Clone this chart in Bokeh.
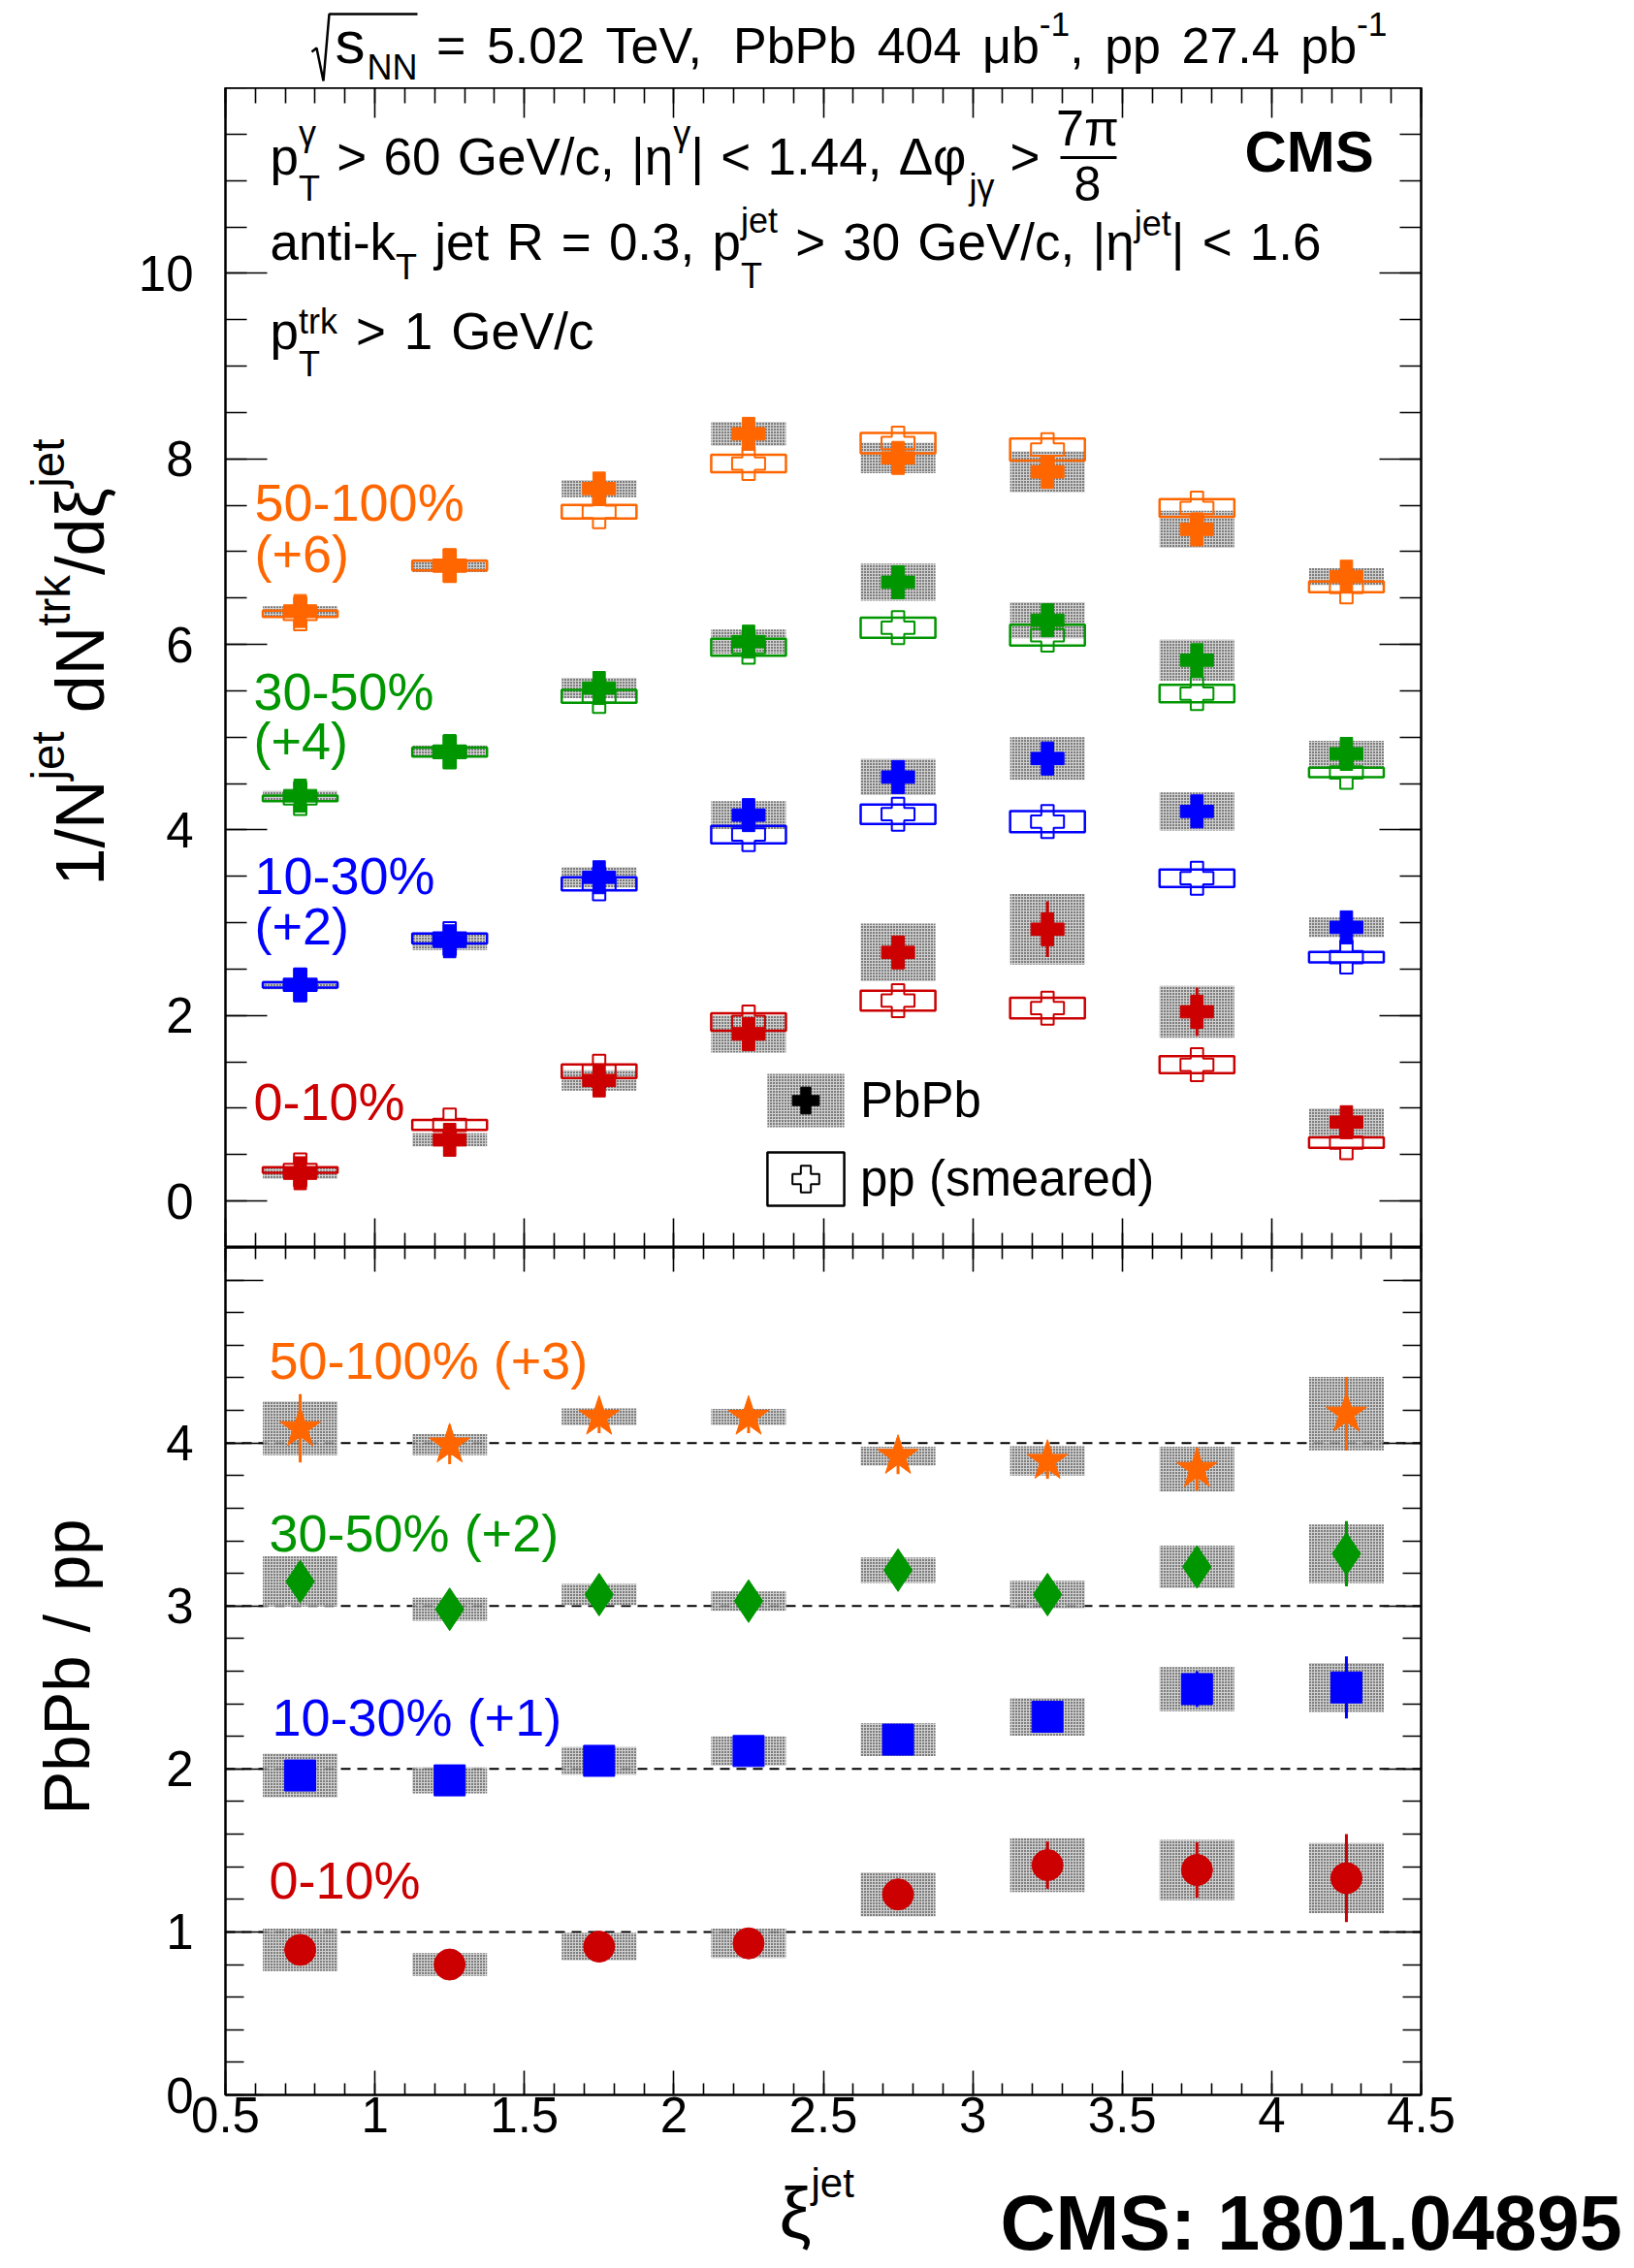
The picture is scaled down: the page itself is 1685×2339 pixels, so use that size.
import math
import re
import numpy as np
from bokeh.embed import file_html
from bokeh.layouts import column, row
from bokeh.models import (CustomLabelingPolicy, FixedTicker, Label, Legend, LegendItem,
                          LinearAxis, Range1d)
from bokeh.plotting import figure
from bokeh.resources import INLINE

FONT = "Liberation Sans"

# ---------------- data ----------------
xi = [0.75, 1.25, 1.75, 2.25, 2.75, 3.25, 3.75, 4.25]
box_width = 0.25

cent_labels = ["0-10%", "10-30%", "30-50%", "50-100%"]
cent_colors = ["#cc0000", "#0000ff", "#009600", "#ff6600"]
dist_offsets = [0, 2, 4, 6]
ratio_offsets = [0, 1, 2, 3]

# 1/N dN/dxi, PbPb (value, stat, sys) per centrality
pbpb_0_10 = [0.30, 0.66, 1.30, 1.80, 2.68, 2.93, 2.04, 0.85]
pbpb_10_30 = [0.33, 0.80, 1.49, 2.16, 2.57, 2.77, 2.20, 0.95]
pbpb_30_50 = [0.37, 0.85, 1.53, 2.03, 2.67, 2.26, 1.83, 0.82]
pbpb_50_100 = [0.36, 0.85, 1.68, 2.27, 2.01, 1.86, 1.24, 0.73]

pbpb_stat_0_10 = [0.03, 0.05, 0.08, 0.12, 0.15, 0.30, 0.26, 0.12]
pbpb_stat_10_30 = [0.03, 0.05, 0.08, 0.12, 0.17, 0.14, 0.14, 0.12]
pbpb_stat_30_50 = [0.03, 0.05, 0.08, 0.12, 0.15, 0.14, 0.17, 0.10]
pbpb_stat_50_100 = [0.03, 0.05, 0.10, 0.18, 0.14, 0.17, 0.18, 0.12]

pbpb_sys_0_10 = [0.06, 0.07, 0.11, 0.20, 0.31, 0.38, 0.28, 0.15]
pbpb_sys_10_30 = [0.05, 0.095, 0.11, 0.15, 0.195, 0.23, 0.205, 0.105]
pbpb_sys_30_50 = [0.05, 0.06, 0.11, 0.13, 0.20, 0.195, 0.22, 0.14]
pbpb_sys_50_100 = [0.05, 0.07, 0.092, 0.13, 0.165, 0.22, 0.20, 0.092]

# smeared pp reference (value, sys)
pp_0_10 = [0.335, 0.82, 1.40, 1.93, 2.16, 2.08, 1.47, 0.63]
pp_10_30 = [0.33, 0.83, 1.42, 1.95, 2.17, 2.09, 1.48, 0.63]
pp_30_50 = [0.34, 0.84, 1.44, 1.97, 2.18, 2.10, 1.47, 0.62]
pp_50_100 = [0.33, 0.85, 1.43, 1.95, 2.17, 2.10, 1.47, 0.62]

pp_sys_0_10 = [0.03, 0.054, 0.073, 0.094, 0.106, 0.11, 0.092, 0.056]
pp_sys_10_30 = [0.028, 0.054, 0.07, 0.094, 0.105, 0.113, 0.094, 0.056]
pp_sys_30_50 = [0.03, 0.049, 0.07, 0.092, 0.108, 0.113, 0.094, 0.052]
pp_sys_50_100 = [0.035, 0.052, 0.073, 0.094, 0.11, 0.118, 0.096, 0.057]

# PbPb / pp ratios (value, stat, sys)
ratio_0_10 = [0.89, 0.80, 0.91, 0.93, 1.23, 1.41, 1.38, 1.33]
ratio_10_30 = [0.96, 0.93, 1.05, 1.11, 1.18, 1.32, 1.49, 1.50]
ratio_30_50 = [1.15, 0.98, 1.07, 1.03, 1.22, 1.07, 1.24, 1.32]
ratio_50_100 = [1.09, 0.99, 1.16, 1.16, 0.92, 0.89, 0.84, 1.18]

ratio_stat_0_10 = [0.04, 0.04, 0.05, 0.05, 0.08, 0.145, 0.17, 0.27]
ratio_stat_10_30 = [0.05, 0.05, 0.05, 0.06, 0.07, 0.09, 0.11, 0.19]
ratio_stat_30_50 = [0.12, 0.11, 0.11, 0.11, 0.11, 0.11, 0.11, 0.20]
ratio_stat_50_100 = [0.21, 0.12, 0.10, 0.10, 0.11, 0.11, 0.13, 0.226]

ratio_sys_0_10 = [0.13, 0.07, 0.085, 0.09, 0.135, 0.165, 0.185, 0.215]
ratio_sys_10_30 = [0.135, 0.08, 0.085, 0.09, 0.10, 0.115, 0.135, 0.15]
ratio_sys_30_50 = [0.155, 0.07, 0.065, 0.06, 0.078, 0.085, 0.13, 0.18]
ratio_sys_50_100 = [0.165, 0.065, 0.052, 0.05, 0.058, 0.09, 0.138, 0.225]

ratio_markers = ["circle", "square", "diamond", "star"]
ratio_marker_sizes = [32, 32, 44, 44]

pbpb = [pbpb_0_10, pbpb_10_30, pbpb_30_50, pbpb_50_100]
pbpb_stat = [pbpb_stat_0_10, pbpb_stat_10_30, pbpb_stat_30_50, pbpb_stat_50_100]
pbpb_sys = [pbpb_sys_0_10, pbpb_sys_10_30, pbpb_sys_30_50, pbpb_sys_50_100]
pp = [pp_0_10, pp_10_30, pp_30_50, pp_50_100]
pp_sys = [pp_sys_0_10, pp_sys_10_30, pp_sys_30_50, pp_sys_50_100]
ratio = [ratio_0_10, ratio_10_30, ratio_30_50, ratio_50_100]
ratio_stat = [ratio_stat_0_10, ratio_stat_10_30, ratio_stat_30_50, ratio_stat_50_100]
ratio_sys = [ratio_sys_0_10, ratio_sys_10_30, ratio_sys_30_50, ratio_sys_50_100]

x_major = [0.5, 1.0, 1.5, 2.0, 2.5, 3.0, 3.5, 4.0, 4.5]
x_minor = [float(v) for v in np.arange(0.5, 4.5001, 0.1)]
top_major = [0, 2, 4, 6, 8, 10]
top_minor = [float(v) for v in np.arange(-0.5, 12.001, 0.5)]
rat_major = [0, 1, 2, 3, 4, 5]
rat_minor = [float(v) for v in np.arange(0.0, 5.2001, 0.2)]
TOP_Y = (-0.5, 12.0)
RAT_Y = (0.0, 5.2)

# ---------------- page geometry (pixels) ----------------
PAGE_W, PAGE_H = 1685, 2339
YLAB_W = 125
FRAME_L, FRAME_R = 232, 1465
TITLE_H = 90
TOP_FRAME_H = 1196
RAT_FRAME_H = 874
RAT_MB = 64
TOP_FRAME_BOTTOM = TITLE_H + TOP_FRAME_H          # 1286
RAT_FRAME_BOTTOM = TOP_FRAME_BOTTOM + RAT_FRAME_H  # 2160
RAT_FIG_BOTTOM = RAT_FRAME_BOTTOM + RAT_MB
FOOT_H = PAGE_H - RAT_FIG_BOTTOM

# dotted systematic boxes: grey ground under a black dot pattern
HATCH = dict(fill_color="#c4c4c4", fill_alpha=0.8, hatch_pattern="dot",
             hatch_color="black", hatch_scale=3, hatch_weight=2.6)
NO_LABELS = CustomLabelingPolicy(code="return []")


def make_fig(height, y_range, mb_bottom):
    f = figure(width=PAGE_W - YLAB_W, height=height, x_range=Range1d(0.5, 4.5),
               y_range=Range1d(*y_range), output_backend="svg", toolbar_location=None,
               x_axis_location=None, y_axis_location=None,
               min_border_left=FRAME_L - YLAB_W, min_border_right=PAGE_W - FRAME_R,
               min_border_top=0, min_border_bottom=mb_bottom)
    f.outline_line_color = "black"
    f.outline_line_width = 2
    f.background_fill_color = "white"
    f.border_fill_color = "white"
    f.grid.visible = False
    return f


def text_fig(width, height, mb_bottom=0):
    f = figure(width=width, height=height, x_range=Range1d(0, width),
               y_range=Range1d(height - mb_bottom, 0), output_backend="svg",
               toolbar_location=None, x_axis_location=None, y_axis_location=None,
               min_border=0)
    f.min_border_bottom = mb_bottom
    f.outline_line_color = None
    f.background_fill_color = "white"
    f.border_fill_color = "white"
    f.grid.visible = False
    return f


def add_axis(fig, side, ticks, minor, tick_in, minor_in, labels=False, standoff=0,
             overrides=None):
    ax = LinearAxis(ticker=FixedTicker(ticks=ticks, minor_ticks=minor),
                    axis_line_color="black", axis_line_width=2,
                    major_tick_in=tick_in, major_tick_out=0,
                    minor_tick_in=minor_in, minor_tick_out=0,
                    major_tick_line_color="black", minor_tick_line_color="black",
                    major_tick_line_width=1.6, minor_tick_line_width=1.6,
                    major_label_text_font=FONT, major_label_text_color="black",
                    major_label_text_font_size="51px" if labels else "0px",
                    major_label_standoff=standoff)
    if not labels:
        ax.major_label_policy = NO_LABELS
    if overrides:
        ax.major_label_overrides = overrides
    fig.add_layout(ax, side)
    return ax


# ---------------- text helpers ----------------
W = {' ': 278, '%': 889, '(': 333, ')': 333, '+': 584, ',': 278, '-': 333, '.': 278,
     '/': 278, ':': 278, '<': 584, '=': 584, '>': 584, '|': 260,
     'A': 667, 'B': 667, 'C': 722, 'D': 722, 'E': 667, 'F': 611, 'G': 778, 'H': 722,
     'I': 278, 'J': 500, 'K': 667, 'L': 556, 'M': 833, 'N': 722, 'O': 778, 'P': 667,
     'Q': 778, 'R': 722, 'S': 667, 'T': 611, 'U': 722, 'V': 667, 'W': 944, 'X': 667,
     'Y': 667, 'Z': 611,
     'a': 556, 'b': 556, 'c': 500, 'd': 556, 'e': 556, 'f': 278, 'g': 556, 'h': 556,
     'i': 222, 'j': 222, 'k': 500, 'l': 222, 'm': 833, 'n': 556, 'o': 556, 'p': 556,
     'q': 556, 'r': 333, 's': 500, 't': 278, 'u': 556, 'v': 500, 'w': 722, 'x': 500,
     'y': 500, 'z': 500,
     'γ': 500, 'η': 556, 'φ': 650, 'π': 556, 'μ': 576, 'ξ': 454, 'Δ': 668, '√': 549}
SUP = 0.68
BASE_FIX = 0.36   # Label places the alphabetic baseline this many ems low


def tw(s, size):
    return sum(W.get(c, 556) for c in s) * size / 1000.0


class Canvas:
    """Maps page pixels (origin top-left) onto a figure's label coordinates."""

    def __init__(self, fig, left, bottom):
        self.fig, self.left, self.bottom = fig, left, bottom

    def put(self, px, py, text, size, color="black", angle=0.0, bold=False, align="left"):
        px -= BASE_FIX * size * math.sin(angle)
        py -= BASE_FIX * size * math.cos(angle)
        self.fig.add_layout(Label(
            x=px - self.left, y=self.bottom - py, x_units="screen", y_units="screen",
            text=text, angle=angle, text_font=FONT, text_font_size=f"{size:.1f}px",
            text_color=color, text_align=align, text_baseline="alphabetic",
            text_font_style="bold" if bold else "normal"))

    def rich(self, x, y, size, segs, color="black", angle=0.0, target=None):
        ax, ay = math.cos(angle), -math.sin(angle)
        ux, uy = -math.sin(angle), -math.cos(angle)
        small = size * SUP

        def adv(seg):
            if seg[0] == "n":
                return tw(seg[1], size)
            if seg[0] in ("sup", "sub"):
                return tw(seg[1], small)
            return max(tw(seg[1], small), tw(seg[2], small))

        natural = sum(adv(s) for s in segs)
        n_space = sum(s[1].count(" ") for s in segs if s[0] == "n")
        extra = (target - natural) / n_space if (target and n_space) else 0.0
        a = 0.0
        for seg in segs:
            bx, by = x + a * ax, y + a * ay
            if seg[0] == "n":
                for tok in re.split(r"( +)", seg[1]):
                    if not tok:
                        continue
                    if tok.startswith(" "):
                        a += len(tok) * (tw(" ", size) + extra)
                    else:
                        self.put(x + a * ax, y + a * ay, tok, size, color, angle)
                        a += tw(tok, size)
                continue
            if seg[0] == "sup":
                self.put(bx + seg[2] * ux, by + seg[2] * uy, seg[1], small, color, angle)
            elif seg[0] == "sub":
                self.put(bx - seg[2] * ux, by - seg[2] * uy, seg[1], small, color, angle)
            else:
                self.put(bx + seg[3] * ux, by + seg[3] * uy, seg[1], small, color, angle)
                self.put(bx - seg[4] * ux, by - seg[4] * uy, seg[2], small, color, angle)
            a += adv(seg)


def px_to_top(px, py):
    xd = 0.5 + (px - FRAME_L) * 4.0 / (FRAME_R - FRAME_L)
    yd = TOP_Y[0] + (TOP_FRAME_BOTTOM - py) * (TOP_Y[1] - TOP_Y[0]) / TOP_FRAME_H
    return xd, yd


# ---------------- upper panel: distributions ----------------
p1 = make_fig(TOP_FRAME_H, TOP_Y, 0)
add_axis(p1, "left", top_major, top_minor, 43, 22, labels=True, standoff=33)
add_axis(p1, "right", top_major, top_minor, 43, 22)
add_axis(p1, "above", x_major, x_minor, 31, 16)
add_axis(p1, "below", x_major, x_minor, 30, 15)

for k in range(4):
    off = dist_offsets[k]
    p1.rect(x=xi, y=[v + off for v in pbpb[k]], width=box_width,
            height=[2 * s for s in pbpb_sys[k]], line_color=None, **HATCH)
for k in range(4):
    off, col = dist_offsets[k], cent_colors[k]
    ypp = [v + off for v in pp[k]]
    p1.rect(x=xi, y=ypp, width=box_width, height=[2 * s for s in pp_sys[k]],
            fill_color=None, line_color=col, line_width=2.5)
    p1.scatter(x=xi, y=ypp, marker="plus", size=34, fill_color=None,
               line_color=col, line_width=2)
for k in range(4):
    off, col = dist_offsets[k], cent_colors[k]
    ypb = [v + off for v in pbpb[k]]
    p1.segment(x0=xi, x1=xi, y0=[v - e for v, e in zip(ypb, pbpb_stat[k])],
               y1=[v + e for v, e in zip(ypb, pbpb_stat[k])], line_color=col, line_width=3)
    p1.scatter(x=xi, y=ypb, marker="plus", size=34, fill_color=col, line_color=col)

# legend keys (black, no points of their own)
nan = [float("nan")]
leg_box = p1.rect(x=nan, y=nan, width=box_width, height=0.1, line_color=None, **HATCH)
leg_pb = p1.scatter(x=nan, y=nan, marker="plus", size=34, fill_color="black",
                    line_color="black")
leg_ppbox = p1.rect(x=nan, y=nan, width=box_width, height=0.1, fill_color=None,
                    line_color="black", line_width=2.5)
leg_pp = p1.scatter(x=nan, y=nan, marker="plus", size=34, fill_color=None,
                    line_color="black", line_width=2)
legend = Legend(items=[LegendItem(label="PbPb", renderers=[leg_box, leg_pb]),
                       LegendItem(label="pp (smeared)", renderers=[leg_ppbox, leg_pp])],
                location=(549, 36), glyph_width=99, glyph_height=69, spacing=12,
                padding=0, margin=0, label_standoff=7, label_text_font=FONT,
                label_text_font_size="51px", label_text_color="black",
                border_line_alpha=0, background_fill_alpha=0)
p1.add_layout(legend)

c1 = Canvas(p1, FRAME_L, TOP_FRAME_BOTTOM)

# selection text inside the frame
c1.rich(278, 180, 53,
        [("n", "p"), ("ss", "γ", "T", 30, 27), ("n", " > 60 GeV/c, |η"), ("sup", "γ", 30),
         ("n", "| < 1.44, Δφ")], target=996 - 278)
c1.put(999, 205, "jγ", 36)
c1.put(1041, 180, ">", 53)
c1.put(1121, 150, "7π", 52, align="center")
fx0, fy = px_to_top(1093, 162)
fx1, _ = px_to_top(1151, 162)
p1.segment(x0=[fx0], y0=[fy], x1=[fx1], y1=[fy], line_color="black", line_width=3)
c1.put(1121, 207, "8", 50, align="center")
c1.put(1283, 178, "CMS", 60, bold=True)

c1.rich(278, 268, 53,
        [("n", "anti-k"), ("sub", "T", 20), ("n", " jet R = 0.3, p"),
         ("ss", "jet", "T", 28, 29), ("n", " > 30 GeV/c, |η"), ("sup", "jet", 25),
         ("n", "| < 1.6")], target=1362 - 278)
c1.rich(278, 360, 53,
        [("n", "p"), ("ss", "trk", "T", 16, 28), ("n", " > 1 GeV/c")], target=612 - 278)

# centrality tags
c1.put(262, 537, cent_labels[3], 54, cent_colors[3])
c1.put(262, 590, f"(+{dist_offsets[3]})", 54, cent_colors[3])
c1.put(261, 732, cent_labels[2], 54, cent_colors[2])
c1.put(261, 783, f"(+{dist_offsets[2]})", 54, cent_colors[2])
c1.put(262, 922, cent_labels[1], 54, cent_colors[1])
c1.put(262, 974, f"(+{dist_offsets[1]})", 54, cent_colors[1])
c1.put(261, 1155, cent_labels[0], 54, cent_colors[0])

# ---------------- lower panel: ratios ----------------
p2 = make_fig(RAT_FRAME_H + RAT_MB, RAT_Y, RAT_MB)
add_axis(p2, "left", rat_major, rat_minor, 39, 19, labels=True, standoff=33,
         overrides={5: ""})
add_axis(p2, "right", rat_major, rat_minor, 39, 19)
add_axis(p2, "above", x_major, x_minor, 25, 12)
add_axis(p2, "below", x_major, x_minor, 25, 12, labels=True, standoff=2)

unity = [o + 1 for o in ratio_offsets]
p2.segment(x0=[x_major[0]] * 4, x1=[x_major[-1]] * 4, y0=unity, y1=unity,
           line_color="black", line_width=2, line_dash="10 7")
for k in range(4):
    off = ratio_offsets[k]
    p2.rect(x=xi, y=[v + off for v in ratio[k]], width=box_width,
            height=[2 * s for s in ratio_sys[k]], line_color=None, **HATCH)
for k in range(4):
    off, col = ratio_offsets[k], cent_colors[k]
    yr = [v + off for v in ratio[k]]
    p2.segment(x0=xi, x1=xi, y0=[v - e for v, e in zip(yr, ratio_stat[k])],
               y1=[v + e for v, e in zip(yr, ratio_stat[k])], line_color=col, line_width=3)
    p2.scatter(x=xi, y=yr, marker=ratio_markers[k], size=ratio_marker_sizes[k],
               fill_color=col, line_color=col)

c2 = Canvas(p2, FRAME_L, RAT_FRAME_BOTTOM)
c2.put(277, 1422, f"{cent_labels[3]} (+{ratio_offsets[3]})", 54, cent_colors[3])
c2.put(277, 1600, f"{cent_labels[2]} (+{ratio_offsets[2]})", 54, cent_colors[2])
c2.put(280, 1790, f"{cent_labels[1]} (+{ratio_offsets[1]})", 54, cent_colors[1])
c2.put(277, 1958, cent_labels[0], 54, cent_colors[0])

# ---------------- surrounding text ----------------
header = text_fig(PAGE_W, TITLE_H)
ch = Canvas(header, 0, TITLE_H)
# radical sign with its bar over s_NN (header ranges are in pixels)
header.line(x=[321, 326, 333, 339, 430], y=[53, 49, 83, 14, 14], line_color="black",
            line_width=2.5)
ch.put(345, 65, "s", 62)
ch.put(378, 82, "NN", 36)
ch.rich(428, 65, 52,
        [("n", " = 5.02 TeV, PbPb 404 "), ("n", "μb"), ("sup", "-1", 28),
         ("n", ", pp 27.4 pb"), ("sup", "-1", 28)], target=1430 - 428)

ylab1 = text_fig(YLAB_W, TOP_FRAME_H)
cy1 = Canvas(ylab1, 0, TOP_FRAME_BOTTOM)
cy1.rich(108, 913, 70,
         [("n", "1/N"), ("sup", "jet", 42), ("n", " dN"), ("sup", "trk", 36), ("n", "/dξ"),
          ("sup", "jet", 42)], angle=math.pi / 2, target=913 - 452)

ylab2 = text_fig(YLAB_W, RAT_FRAME_H + RAT_MB, RAT_MB)
cy2 = Canvas(ylab2, 0, RAT_FRAME_BOTTOM)
cy2.rich(92, 1871, 67, [("n", "PbPb / pp")], angle=math.pi / 2, target=1871 - 1566)

footer = text_fig(PAGE_W, FOOT_H)
cf = Canvas(footer, 0, PAGE_H)
cf.put(803, 2309, "ξ", 74)
cf.put(836, 2266, "jet", 42)
cf.put(1031, 2320, "CMS: 1801.04895", 79, bold=True)

layout = column(header, row(ylab1, p1, spacing=0), row(ylab2, p2, spacing=0), footer,
                spacing=0)
open("out.html", "w").write(file_html(layout, INLINE))
